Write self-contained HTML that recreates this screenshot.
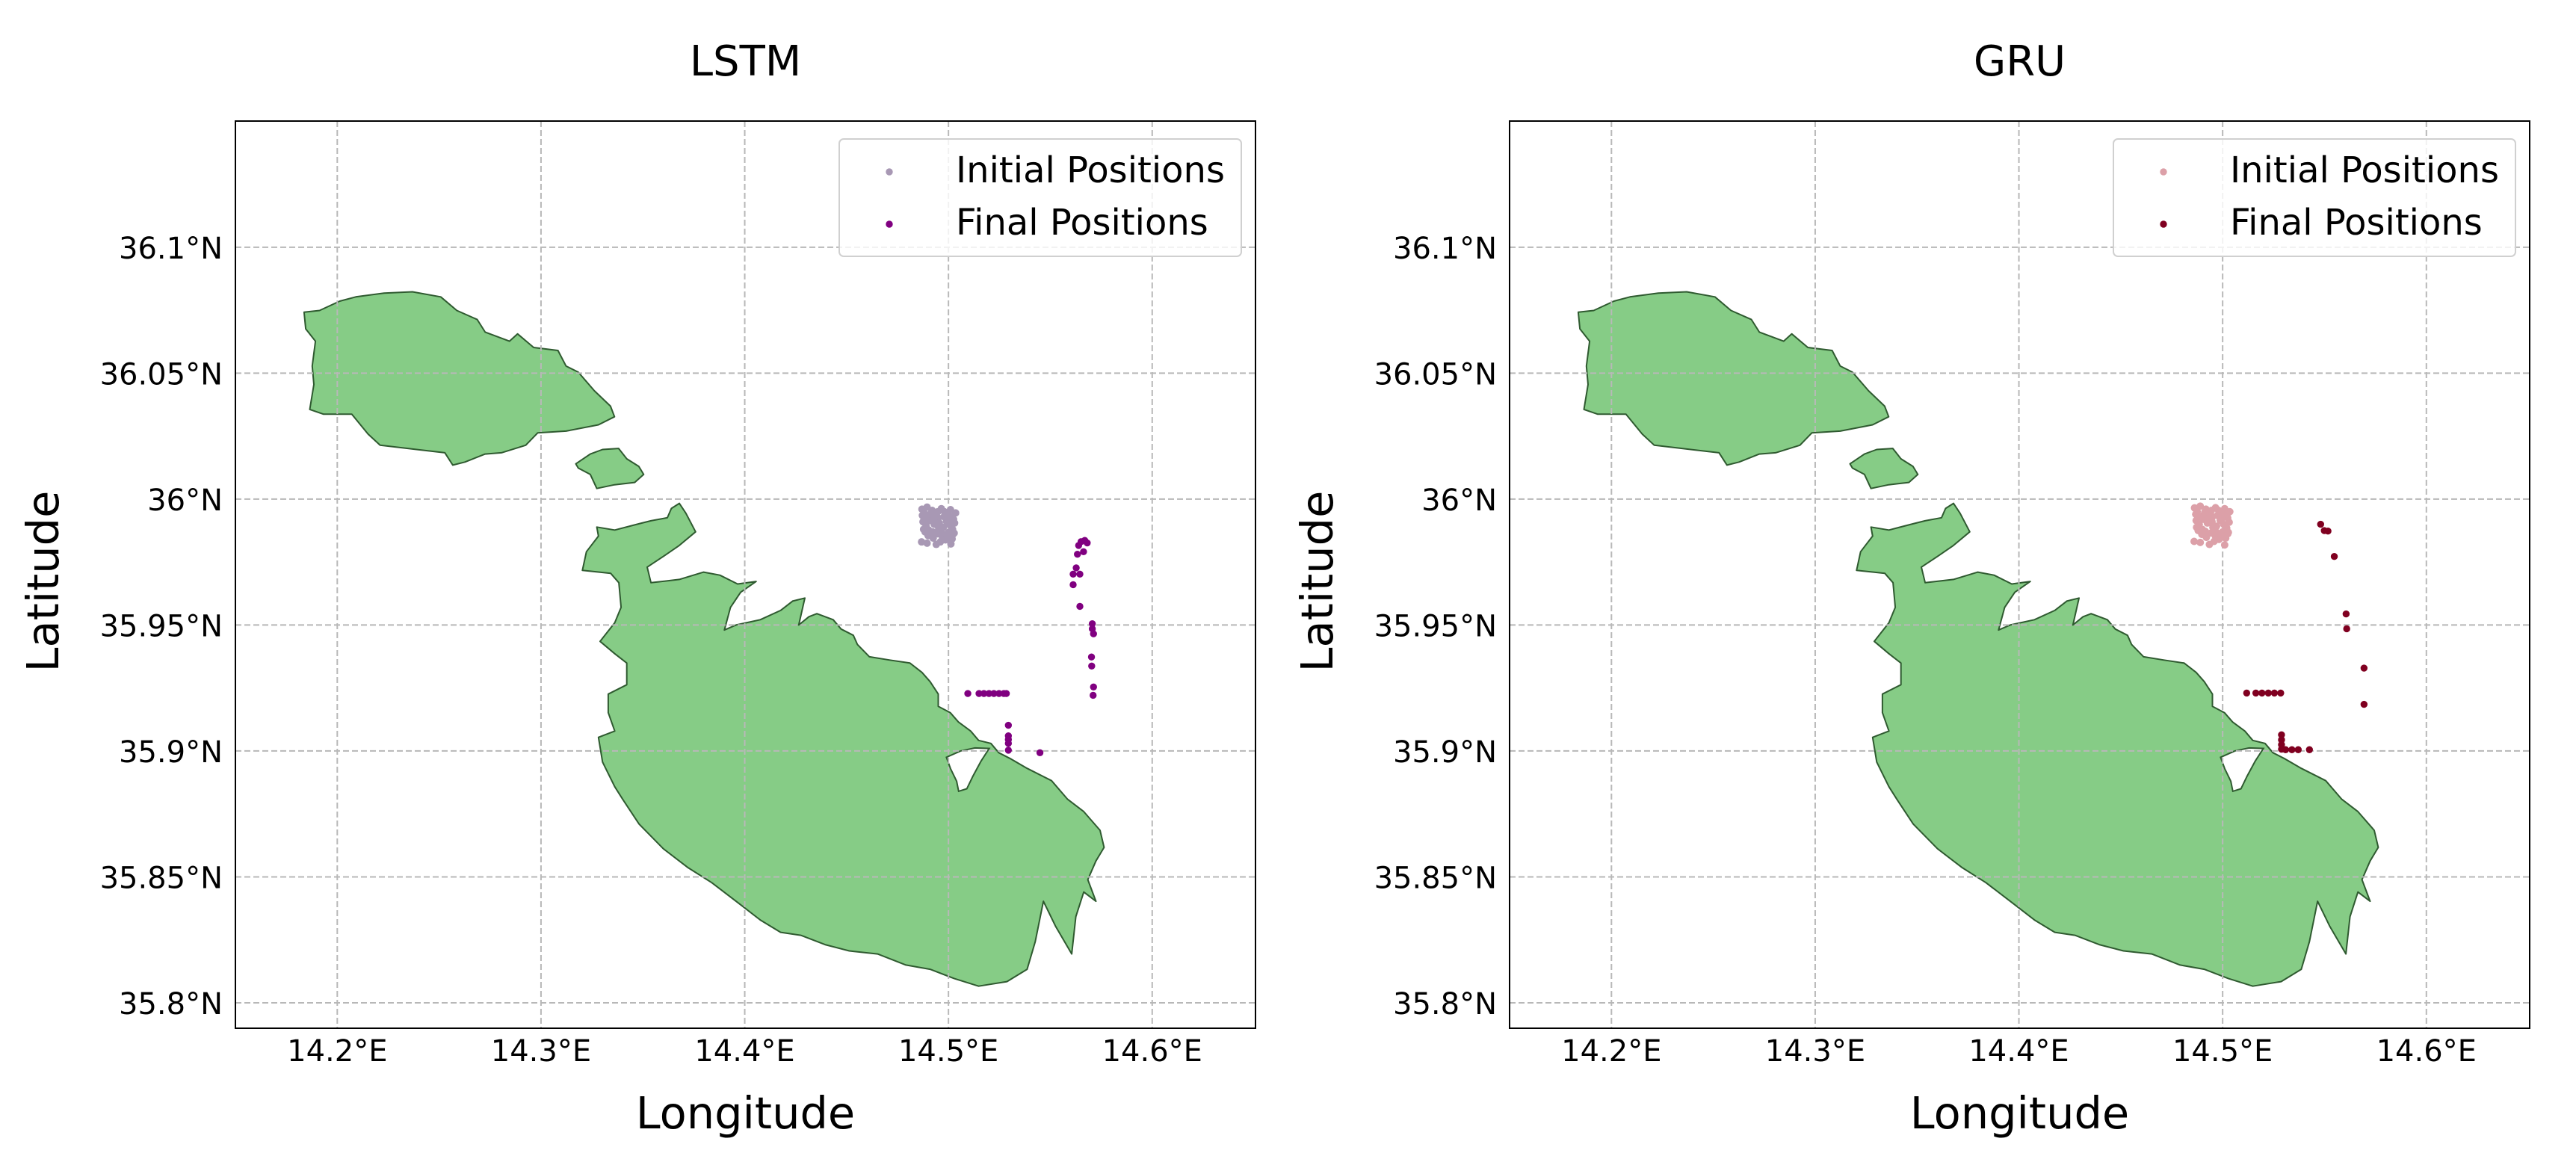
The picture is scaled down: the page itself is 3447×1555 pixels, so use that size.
<!DOCTYPE html>
<html><head><meta charset="utf-8">
<style>
html,body{margin:0;padding:0;background:#fff;}
svg{display:block;font-family:"DejaVu Sans","Liberation Sans",sans-serif;}
</style></head>
<body>
<svg id="fig" width="3447" height="1555" viewBox="0 0 3447 1555" xmlns="http://www.w3.org/2000/svg"></svg>
<script>
// ---- data ----
const lonTicks = [14.2, 14.3, 14.4, 14.5, 14.6];
const latTicks = [35.8, 35.85, 35.9, 35.95, 36.0, 36.05, 36.1];
const lonTickLabels = ["14.2°E","14.3°E","14.4°E","14.5°E","14.6°E"];
const latTickLabels = ["35.8°N","35.85°N","35.9°N","35.95°N","36°N","36.05°N","36.1°N"];
const panelTitles = ["LSTM","GRU"];

const gozo = [[14.1837,36.0742],[14.1913,36.0749],[14.2012,36.0786],[14.2091,36.0803],[14.2230,36.0818],[14.2369,36.0823],[14.2508,36.0803],[14.2587,36.0749],[14.2687,36.0713],[14.2726,36.0663],[14.2845,36.0627],[14.2885,36.0656],[14.2964,36.0602],[14.3083,36.0590],[14.3123,36.0528],[14.3183,36.0504],[14.3262,36.0430],[14.3341,36.0369],[14.3361,36.0327],[14.3282,36.0295],[14.3123,36.0270],[14.2984,36.0263],[14.2925,36.0214],[14.2806,36.0184],[14.2726,36.0179],[14.2627,36.0147],[14.2567,36.0135],[14.2528,36.0184],[14.2389,36.0197],[14.2210,36.0214],[14.2151,36.0258],[14.2071,36.0337],[14.1933,36.0337],[14.1865,36.0356],[14.1885,36.0455],[14.1877,36.0528],[14.1893,36.0627],[14.1845,36.0676]];
const comino = [[14.3171,36.0140],[14.3242,36.0179],[14.3302,36.0197],[14.3381,36.0201],[14.3421,36.0160],[14.3480,36.0130],[14.3504,36.0098],[14.3460,36.0066],[14.3361,36.0057],[14.3274,36.0042],[14.3242,36.0098],[14.3183,36.0123]];
const malta = [[14.3274,35.9889],[14.3362,35.9877],[14.3481,35.9902],[14.3540,35.9914],[14.3620,35.9926],[14.3640,35.9963],[14.3679,35.9983],[14.3711,35.9944],[14.3759,35.9870],[14.3679,35.9816],[14.3600,35.9772],[14.3521,35.9730],[14.3540,35.9668],[14.3679,35.9681],[14.3798,35.9710],[14.3878,35.9698],[14.3965,35.9663],[14.4056,35.9673],[14.3980,35.9630],[14.3930,35.9570],[14.3900,35.9480],[14.3957,35.9500],[14.4076,35.9521],[14.4176,35.9558],[14.4235,35.9595],[14.4295,35.9607],[14.4265,35.9500],[14.4315,35.9533],[14.4354,35.9545],[14.4434,35.9521],[14.4473,35.9484],[14.4533,35.9459],[14.4553,35.9423],[14.4612,35.9374],[14.4712,35.9361],[14.4811,35.9349],[14.4870,35.9312],[14.4910,35.9275],[14.4950,35.9226],[14.4950,35.9177],[14.5009,35.9152],[14.5049,35.9115],[14.5109,35.9079],[14.5148,35.9042],[14.5208,35.9030],[14.5247,35.8993],[14.5307,35.8968],[14.5386,35.8931],[14.5506,35.8882],[14.5585,35.8808],[14.5664,35.8759],[14.5744,35.8685],[14.5764,35.8617],[14.5724,35.8563],[14.5684,35.8489],[14.5724,35.8403],[14.5664,35.8440],[14.5625,35.8342],[14.5605,35.8194],[14.5525,35.8305],[14.5466,35.8403],[14.5426,35.8243],[14.5386,35.8133],[14.5287,35.8084],[14.5148,35.8066],[14.5029,35.8096],[14.4910,35.8133],[14.4791,35.8150],[14.4652,35.8194],[14.4513,35.8206],[14.4394,35.8231],[14.4275,35.8268],[14.4176,35.8280],[14.4076,35.8329],[14.3977,35.8391],[14.3838,35.8477],[14.3719,35.8538],[14.3600,35.8612],[14.3481,35.8710],[14.3401,35.8808],[14.3362,35.8858],[14.3302,35.8956],[14.3282,35.9054],[14.3362,35.9079],[14.3330,35.9152],[14.3330,35.9226],[14.3421,35.9263],[14.3421,35.9349],[14.3362,35.9386],[14.3290,35.9435],[14.3362,35.9509],[14.3393,35.9570],[14.3382,35.9668],[14.3342,35.9705],[14.3203,35.9717],[14.3223,35.9791],[14.3282,35.9853]];
const harbour = [[14.4990,35.8975],[14.5060,35.9000],[14.5130,35.9012],[14.5200,35.9010],[14.5160,35.8960],[14.5120,35.8900],[14.5090,35.8850],[14.5050,35.8840],[14.5040,35.8880],[14.5010,35.8930]];

const lstmInitLon = [14.4870,14.4880,14.4895,14.4905,14.4920,14.4935,14.4950,14.4965,14.4980,14.4995,14.5010,14.5025,14.5035,14.4875,14.4890,14.4910,14.4930,14.4955,14.4975,14.4990,14.5005,14.5020,14.5030,14.4868,14.4885,14.4900,14.4925,14.4945,14.4970,14.4985,14.5000,14.5018,14.4895,14.4940,14.4960,14.5012,14.4872,14.4888,14.4912,14.4928,14.4948,14.4962,14.4978,14.4998,14.5015,14.5028,14.4878,14.4902,14.4922,14.4952,14.4972,14.4992,14.5008,14.5022];
const lstmInitLat = [35.9960,35.9945,35.9968,35.9930,35.9955,35.9940,35.9925,35.9962,35.9950,35.9935,35.9958,35.9920,35.9945,35.9910,35.9895,35.9915,35.9900,35.9905,35.9888,35.9912,35.9898,35.9880,35.9905,35.9830,35.9870,35.9855,35.9845,35.9862,35.9850,35.9838,35.9868,35.9842,35.9825,35.9820,35.9830,35.9822,35.9935,35.9925,35.9942,35.9918,35.9950,35.9880,35.9930,35.9920,35.9930,35.9865,35.9880,35.9878,35.9870,35.9885,35.9862,35.9858,35.9845,35.9860];
const lstmFinalLon = [14.5669,14.5681,14.5651,14.5639,14.5663,14.5633,14.5627,14.5612,14.5645,14.5612,14.5645,14.5706,14.5706,14.5712,14.5702,14.5703,14.5712,14.5710,14.5095,14.5150,14.5174,14.5199,14.5223,14.5248,14.5272,14.5284,14.5294,14.5294,14.5294,14.5294,14.5294,14.5449];
const lstmFinalLat = [35.9836,35.9826,35.9831,35.9816,35.9791,35.9781,35.9727,35.9702,35.9702,35.9660,35.9574,35.9505,35.9485,35.9465,35.9373,35.9337,35.9254,35.9221,35.9228,35.9228,35.9228,35.9228,35.9228,35.9228,35.9228,35.9228,35.9102,35.9060,35.9045,35.9030,35.9003,35.8993];

const gruInitLon = [14.4862,14.4875,14.4890,14.4905,14.4918,14.4935,14.4950,14.4965,14.4980,14.4995,14.5010,14.5025,14.5035,14.4870,14.4885,14.4905,14.4925,14.4948,14.4970,14.4988,14.5005,14.5020,14.5032,14.4860,14.4880,14.4898,14.4920,14.4942,14.4965,14.4982,14.5000,14.5015,14.4890,14.4935,14.4958,14.5010,14.4868,14.4882,14.4912,14.4928,14.4945,14.4960,14.4975,14.4998,14.5018,14.5028,14.4872,14.4900,14.4915,14.4952,14.4972,14.4992,14.5008,14.5025];
const gruInitLat = [35.9965,35.9950,35.9972,35.9935,35.9960,35.9945,35.9930,35.9966,35.9955,35.9940,35.9962,35.9925,35.9950,35.9915,35.9900,35.9920,35.9905,35.9910,35.9892,35.9915,35.9900,35.9885,35.9908,35.9832,35.9875,35.9860,35.9848,35.9865,35.9852,35.9840,35.9870,35.9845,35.9828,35.9820,35.9832,35.9818,35.9940,35.9930,35.9948,35.9922,35.9955,35.9885,35.9935,35.9925,35.9938,35.9868,35.9888,35.9880,35.9872,35.9888,35.9866,35.9860,35.9848,35.9862];
const gruFinalLon = [14.5481,14.5499,14.5517,14.5548,14.5606,14.5609,14.5694,14.5694,14.5118,14.5163,14.5193,14.5224,14.5254,14.5285,14.5289,14.5289,14.5289,14.5289,14.5309,14.5340,14.5371,14.5426];
const gruFinalLat = [35.9900,35.9875,35.9873,35.9772,35.9544,35.9485,35.9329,35.9185,35.9230,35.9230,35.9230,35.9230,35.9230,35.9230,35.9064,35.9044,35.9025,35.9007,35.9005,35.9005,35.9005,35.9005];

// ---- layout ----
const NS = "http://www.w3.org/2000/svg";
const svg = document.getElementById("fig");
const LON0 = 14.15, LON1 = 14.6507, LAT0 = 35.7899, LAT1 = 36.1501;
const AX_W = 1365, AX_H = 1214, AX_TOP = 162;
const panelLeft = [315, 2020];
const colors = [["#a898b4","#800080"],["#dca0a8","#800020"]];
const initLon = [lstmInitLon, gruInitLon], initLat = [lstmInitLat, gruInitLat];
const finLon = [lstmFinalLon, gruFinalLon], finLat = [lstmFinalLat, gruFinalLat];

function mk(tag, attrs, parent){
  const e = document.createElementNS(NS, tag);
  for (const k in attrs) e.setAttribute(k, attrs[k]);
  (parent||svg).appendChild(e);
  return e;
}

panelTitles.forEach((title, p) => {
  const L = panelLeft[p];
  const sx = lon => L + (lon - LON0) / (LON1 - LON0) * AX_W;
  const sy = lat => AX_TOP + (LAT1 - lat) / (LAT1 - LAT0) * AX_H;
  const g = mk("g", {});
  
  

  const clipId = "clip" + p;
  const cp = mk("clipPath", {id: clipId}, g);
  mk("rect", {x: L, y: AX_TOP, width: AX_W, height: AX_H}, cp);
  const plot = mk("g", {"clip-path": "url(#" + clipId + ")"}, g);

  [[gozo,'gozo-island'],[comino,'comino-island'],[malta,'malta-island']].forEach(([poly,name]) => {
    const el = mk("polygon", {points: poly.map(q => sx(q[0]).toFixed(1)+","+sy(q[1]).toFixed(1)).join(" "), fill: "#86cc86", stroke: "#2f5a30", "stroke-width": 2, "stroke-linejoin": "round"}, plot);
    
    
  });
  const hb = mk("polygon", {points: harbour.map(q => sx(q[0]).toFixed(1)+","+sy(q[1]).toFixed(1)).join(" "), fill: "#fff", stroke: "#2f5a30", "stroke-width": 2}, plot);
  
  

  lonTicks.forEach((v, i) => {
    const x = sx(v);
    const gl = mk("line", {x1: x, x2: x, y1: AX_TOP, y2: AX_TOP + AX_H, stroke: "#b8b8b8", "stroke-width": 2, "stroke-dasharray": "8,4"}, plot);
    
    
    const t = mk("text", {x: x, y: 1420, "font-size": 40, "text-anchor": "middle", fill: "#000"}, g);
    t.textContent = lonTickLabels[i];
    
    
  });
  latTicks.forEach((v, i) => {
    const y = sy(v);
    const gl = mk("line", {x1: L, x2: L + AX_W, y1: y, y2: y, stroke: "#b8b8b8", "stroke-width": 2, "stroke-dasharray": "8,4"}, plot);
    
    
    const t = mk("text", {x: L - 17, y: y + 15, "font-size": 40, "text-anchor": "end", fill: "#000"}, g);
    t.textContent = latTickLabels[i];
    
    
  });

  initLon[p].forEach((v, i) => {
    const c = mk("circle", {cx: sx(v), cy: sy(initLat[p][i]), r: 5, fill: colors[p][0]}, plot);
    
    
  });
  finLon[p].forEach((v, i) => {
    const c = mk("circle", {cx: sx(v), cy: sy(finLat[p][i]), r: 4.7, fill: colors[p][1]}, plot);
    
    
  });

  const fr = mk("rect", {x: L, y: AX_TOP, width: AX_W, height: AX_H, fill: "none", stroke: "#000", "stroke-width": 2}, g);
  
  

  const tt = mk("text", {x: L + AX_W/2, y: 101, "font-size": 56, "text-anchor": "middle", fill: "#000"}, g);
  tt.textContent = title;
  
  

  const xl = mk("text", {x: L + AX_W/2, y: 1510, "font-size": 59, "text-anchor": "middle", fill: "#000"}, g);
  xl.textContent = "Longitude";
  
  
  const yl = mk("text", {x: 0, y: 0, "font-size": 59, "text-anchor": "middle", fill: "#000", transform: "translate(" + (L - 237) + ",778) rotate(-90)"}, g);
  yl.textContent = "Latitude";
  
  

  const lg = mk("g", {}, g);
  
  
  mk("rect", {x: L + 808, y: 186, width: 538, height: 157, rx: 6, fill: "rgba(255,255,255,0.8)", stroke: "#d0d0d0", "stroke-width": 2}, lg);
  [["Initial Positions", 0, 230, 244], ["Final Positions", 1, 300, 314]].forEach(([lab, ci, my, ty]) => {
    const m = mk("circle", {cx: L + 875, cy: my, r: 4.7, fill: colors[p][ci]}, lg);
    
    
    const t = mk("text", {x: L + 964, y: ty, "font-size": 48, fill: "#000"}, lg);
    t.textContent = lab;
    
    
  });
});
</script>
</body></html>
